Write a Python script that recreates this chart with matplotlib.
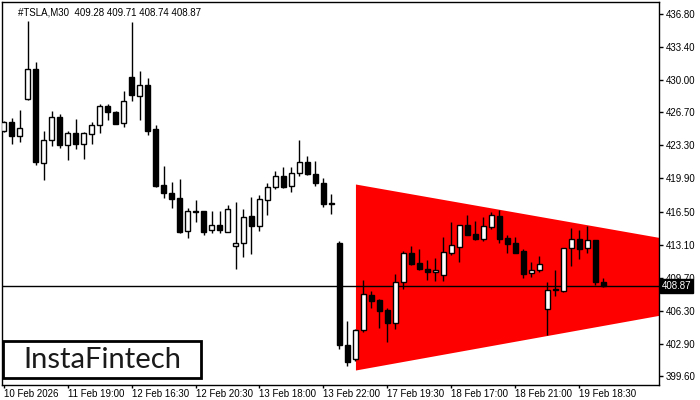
import matplotlib
matplotlib.use("Agg")
import matplotlib.pyplot as plt
import matplotlib.transforms as mtransforms
from matplotlib.patches import Rectangle

plt.rcParams['font.family'] = ['Liberation Sans', 'DejaVu Sans']

# TSLA M30 candles
opens = [424.81, 425.67, 424.23, 428.03, 431.15, 421.46, 423.82, 426.18, 423.37, 424.54,
         423.47, 424.44, 425.36, 427.35, 426.70, 425.57, 430.33, 428.34, 429.47, 424.98,
         419.23, 418.41, 417.89, 414.47, 416.53, 416.53, 414.57, 415.09, 414.43, 412.93,
         413.22, 416.04, 414.98, 417.66, 418.99, 420.18, 419.09, 420.43, 421.56, 420.36,
         419.43, 417.33, 413.24, 402.79, 401.32, 404.36, 407.89, 407.41, 406.38, 405.08,
         409.23, 412.21, 411.18, 410.60, 410.26, 410.01, 412.27, 412.89, 415.09, 414.19,
         413.68, 414.94, 416.04, 413.78, 413.24, 412.45, 410.15, 410.46, 406.45, 408.54,
         408.30, 412.72, 413.65, 412.72, 413.55, 409.28]
highs = [425.80, 426.08, 426.90, 436.08, 431.84, 424.78, 426.83, 426.52, 424.78, 426.01,
         424.64, 425.67, 427.58, 427.52, 426.83, 428.86, 436.01, 430.94, 430.19, 425.39,
         421.18, 419.54, 419.84, 416.86, 417.69, 416.59, 416.56, 416.56, 417.17, 417.45,
         416.76, 417.99, 418.20, 419.46, 420.64, 421.08, 421.08, 423.85, 422.21, 421.69,
         419.95, 418.30, 413.47, 405.25, 404.43, 409.47, 408.34, 407.48, 406.56, 410.08,
         412.48, 412.96, 412.65, 411.52, 411.76, 413.85, 415.43, 415.12, 416.15, 415.53,
         415.94, 416.48, 416.66, 414.06, 413.85, 412.65, 411.32, 411.90, 409.26, 410.49,
         412.72, 414.81, 414.60, 415.01, 413.58, 409.71]
lows = [424.67, 423.47, 423.62, 427.95, 421.31, 419.77, 423.27, 423.06, 421.83, 422.96,
        421.93, 423.41, 424.54, 425.94, 425.47, 425.19, 427.89, 425.94, 424.40, 419.05,
        417.92, 416.90, 414.33, 413.81, 415.46, 414.06, 414.30, 414.30, 414.37, 410.60,
        411.83, 412.14, 414.53, 416.18, 418.85, 418.95, 418.54, 420.12, 420.22, 419.13,
        417.00, 416.28, 402.38, 400.66, 401.14, 404.15, 406.62, 404.56, 403.13, 404.40,
        408.57, 411.01, 410.49, 409.47, 409.36, 409.36, 412.03, 411.35, 414.06, 413.58,
        413.47, 414.74, 413.24, 412.27, 412.20, 409.70, 409.80, 410.29, 403.84, 407.82,
        408.28, 410.90, 411.65, 412.27, 408.92, 408.74]
closes = [425.67, 424.23, 425.05, 431.15, 421.56, 423.82, 426.18, 423.37, 424.54, 423.47,
          424.54, 425.36, 427.35, 426.76, 425.53, 427.83, 428.45, 429.47, 424.81, 419.13,
          418.44, 417.82, 414.40, 416.53, 416.50, 414.43, 415.09, 414.57, 416.73, 413.24,
          415.91, 415.05, 417.76, 418.99, 420.18, 419.05, 420.43, 421.56, 420.33, 419.40,
          417.31, 417.31, 402.82, 401.07, 404.30, 408.00, 407.34, 406.31, 405.08, 409.23,
          412.21, 411.14, 410.63, 410.32, 410.46, 412.31, 413.03, 415.09, 414.12, 413.68,
          414.98, 416.11, 413.71, 413.20, 412.27, 410.11, 410.46, 411.08, 408.41, 408.41,
          412.72, 413.65, 412.68, 413.55, 409.29, 408.87]

date_labels = ["10 Feb 2026", "11 Feb 19:00", "12 Feb 16:30", "12 Feb 20:30", "13 Feb 18:00",
               "13 Feb 22:00", "17 Feb 19:30", "18 Feb 17:00", "18 Feb 21:00", "19 Feb 18:30"]
price_ticks = [436.80, 433.40, 430.00, 426.70, 423.30, 419.90, 416.50, 413.10,
               409.70, 406.30, 402.90, 399.60]

# triangle (bearish pattern) edges
tri_x = [44, 84]
tri_top = [419.33, 413.55]
tri_bot = [400.22, 406.14]

last_price = 408.87

fig = plt.figure(figsize=(7, 4), dpi=100)
ax = fig.add_axes([2 / 700, 15 / 400, 657 / 700, 383 / 400])

ax.fill_between(tri_x, tri_bot, tri_top, color="#ff0000", lw=0, zorder=1)
ax.axhline(last_price, color="black", lw=1, zorder=2)

xs = list(range(len(opens)))
ax.vlines(xs, lows, highs, color="black", lw=1, zorder=3)
for i in xs:
    o, c = opens[i], closes[i]
    bottom = min(o, c)
    h = max(abs(c - o), 0.08)
    if c >= o:
        fc = "white"
    else:
        fc = "black"
    ax.add_patch(Rectangle((i - 0.3, bottom), 0.6, h, facecolor=fc,
                           edgecolor="black", lw=1, zorder=4))

ax.set_xlim(-0.2, 81.96)
ax.set_ylim(398.68, 438.03)

ax.yaxis.tick_right()
ax.set_yticks(price_ticks)
ax.set_yticklabels(["%.2f" % p for p in price_ticks], fontsize=7)
ax.tick_params(axis="y", direction="out", length=3, width=1, pad=2)

ax.set_xticks([8 * k for k in range(len(date_labels))])
ax.set_xticklabels(date_labels, fontsize=7, ha="left")
ax.tick_params(axis="x", direction="out", length=2, width=1, pad=1)

for s in ax.spines.values():
    s.set_linewidth(1)
    s.set_color("black")

# header
ax.text(0.025, 0.985, "#TSLA,M30  409.28 409.71 408.74 408.87", transform=ax.transAxes,
        fontsize=7, va="top", ha="left", color="black")

# price label on right axis
trans = mtransforms.blended_transform_factory(ax.transAxes, ax.transData)
ax.text(1.004, last_price, "408.87", transform=trans, fontsize=7, color="white",
        va="center", ha="left", zorder=10, clip_on=False,
        bbox=dict(facecolor="black", edgecolor="black", pad=1.5))

# logo box
fig.patches.append(Rectangle((3 / 700, 22 / 400), 198 / 700, 37 / 400, transform=fig.transFigure,
                             facecolor="white", edgecolor="black", lw=2, zorder=20))
fig.text(102 / 700, 40.5 / 400, "InstaFintech", fontsize=21, color="#1a1a1a",
         family="Lato", ha="center", va="center", zorder=21)

fig.savefig("out.png", dpi=100)
